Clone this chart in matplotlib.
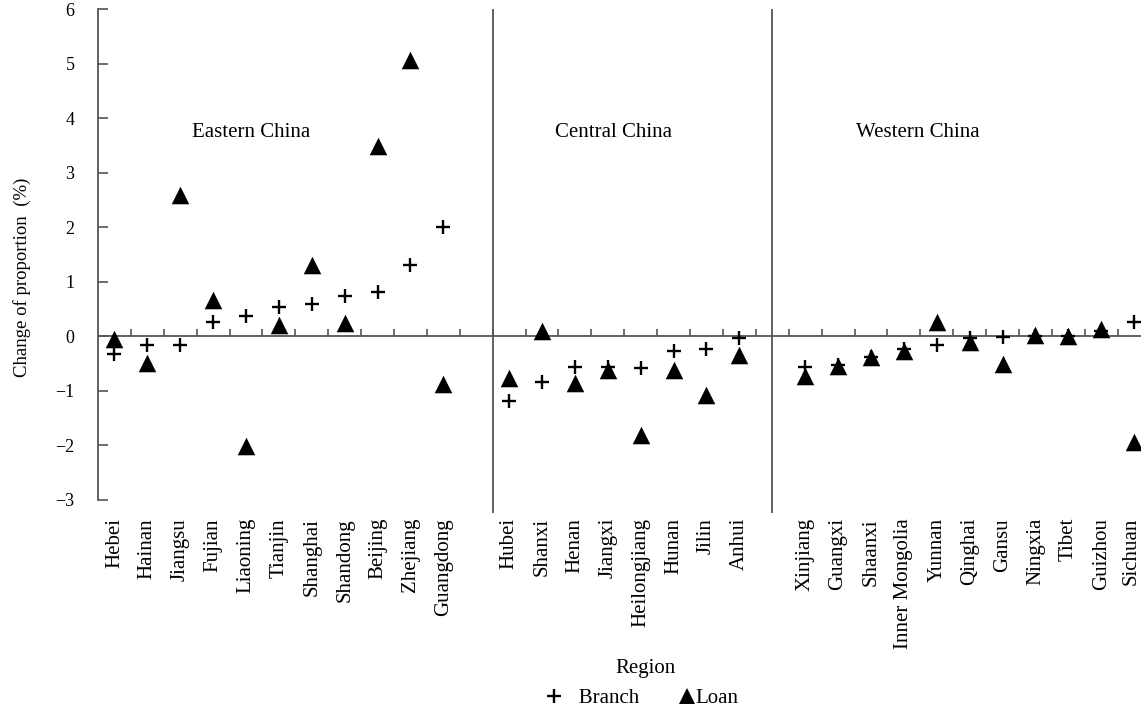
import numpy as np
import matplotlib
matplotlib.use("Agg")
import matplotlib.pyplot as plt
import matplotlib.transforms as mtransforms

plt.rcParams['font.family'] = ['Liberation Serif', 'DejaVu Serif']

# data (change of proportion, %)
east = ["Hebei", "Hainan", "Jiangsu", "Fujian", "Liaoning", "Tianjin", "Shanghai",
        "Shandong", "Beijing", "Zhejiang", "Guangdong"]
east_branch = [-0.32, -0.15, -0.15, 0.27, 0.38, 0.53, 0.59, 0.74, 0.81, 1.31, 2.01]
east_loan = [-0.05, -0.48, 2.59, 0.67, -2.01, 0.21, 1.31, 0.25, 3.48, 5.06, -0.88]

central = ["Hubei", "Shanxi", "Henan", "Jiangxi", "Heilongjiang", "Hunan", "Jilin", "Anhui"]
central_branch = [-1.18, -0.84, -0.57, -0.57, -0.58, -0.26, -0.23, -0.03]
central_loan = [-0.76, 0.09, -0.85, -0.62, -1.81, -0.61, -1.07, -0.35]

west = ["Xinjiang", "Guangxi", "Shaanxi", "Inner Mongolia", "Yunnan", "Qinghai", "Gansu",
        "Ningxia", "Tibet", "Guizhou", "Sichuan"]
west_branch = [-0.57, -0.52, -0.38, -0.24, -0.16, -0.03, -0.01, 0.0, 0.0, 0.1, 0.26]
west_loan = [-0.73, -0.54, -0.38, -0.27, 0.26, -0.10, -0.51, 0.03, 0.0, 0.13, -1.94]

groups = ["Eastern China", "Central China", "Western China"]

# positions: one empty slot between groups
x_east = np.arange(len(east))
x_central = np.arange(len(central)) + len(east) + 1
x_west = np.arange(len(west)) + x_central[-1] + 2
x_all = np.concatenate([x_east, x_central, x_west])
labels = east + central + west
branch = east_branch + central_branch + west_branch
loan = east_loan + central_loan + west_loan

fig = plt.figure(figsize=(11.41, 7.08), dpi=100)
ax = fig.add_axes([98 / 1141, 1 - 500 / 708, 1 - 98 / 1141, 491 / 708])

line_col = "#555555"
ax.scatter(x_all, branch, marker="+", s=115, linewidths=1.7, color="black", zorder=3)
ax.scatter(x_all, loan, marker="^", s=160, color="black", linewidths=0, zorder=3)

ax.set_xlim(-0.5, 31.21)
ax.set_ylim(-3, 6)

# zero line with small upward ticks between categories
ax.axhline(0, color=line_col, lw=1.3, zorder=1)
ax.vlines(np.arange(x_all[-1]) + 0.5, 0, 0.13, color=line_col, lw=1.2)

# group separators
sep1 = len(east) + 0.5
sep2 = x_central[-1] + 1
ax.vlines([sep1, sep2], -3.23, 6, color=line_col, lw=1.3, clip_on=False)

ax.text(4.17, 3.73, groups[0], ha="center", va="center", fontsize=15)
ax.text(15.18, 3.73, groups[1], ha="center", va="center", fontsize=15)
ax.text(24.43, 3.73, groups[2], ha="center", va="center", fontsize=15)

for s in ["top", "right", "bottom"]:
    ax.spines[s].set_visible(False)
ax.spines["left"].set_color(line_col)
ax.spines["left"].set_linewidth(1.3)

ax.set_yticks(np.arange(-3, 7))
ax.tick_params(axis="y", direction="in", length=7, width=1.2, color=line_col,
               labelsize=13, pad=17)
ax.set_xticks(x_all)
ax.set_xticklabels(labels, rotation=90, fontsize=15)
ax.tick_params(axis="x", length=0, pad=13)
# last label sits right at the figure edge; pull it in a little
last = ax.get_xticklabels()[-1]
last.set_transform(last.get_transform() + mtransforms.ScaledTranslation(-3 / 100, 0, fig.dpi_scale_trans))

ax.set_ylabel("Change of proportion  (%)", fontsize=13.5)
ax.yaxis.set_label_coords(-0.064, 0.454)
ax.set_xlabel("Region", fontsize=15)
ax.xaxis.label.set_va("center")
ax.xaxis.set_label_coords((646 - 98) / 1043, -(668 - 500) / 491)

h1 = plt.Line2D([], [], marker="+", ls="none", color="black", ms=10, mew=1.7)
h2 = plt.Line2D([], [], marker="^", ls="none", color="black", ms=11, mew=0)
fig.legend([h1, h2], ["   Branch", "Loan"], ncol=2, loc="center",
           bbox_to_anchor=(642 / 1141, 1 - 698 / 708), frameon=False,
           fontsize=15, handlelength=0.8, handletextpad=0.0, columnspacing=1.9,
           borderpad=0.2)

fig.savefig("out.png", dpi=100)
